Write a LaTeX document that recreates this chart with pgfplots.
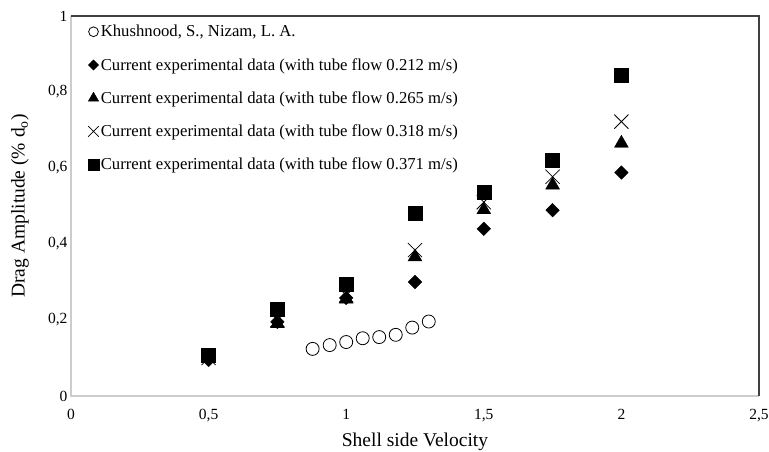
\documentclass[border=0pt]{standalone}
\usepackage{fontspec}
\setmainfont{Liberation Serif}
\usepackage{pgfplots}
\pgfplotsset{compat=1.18}
\usetikzlibrary{calc}
\begin{document}
\begin{tikzpicture}
\begin{axis}[
  scale only axis,
  width=688pt, height=380pt,
  xmin=0, xmax=2.5, ymin=0, ymax=1,
  xtick={0,0.5,1,1.5,2,2.5},
  ytick={0,0.2,0.4,0.6,0.8,1},
  /pgf/number format/use comma,
  /pgf/number format/assume math mode=true,
  tick label style={font=\fontsize{15.5}{17}\selectfont},
  xticklabel style={yshift=-10pt},
  major tick length=0pt,
  axis line style={draw=none},
  xlabel={Shell side Velocity},
  ylabel={Drag Amplitude (\% d\textsubscript{o})},
  label style={font=\fontsize{19.5}{21}\selectfont},
  xlabel style={at={(axis description cs:0.5,0)}, anchor=center, yshift=-46pt},
  ylabel style={at={(axis description cs:0,0.5)}, anchor=center, yshift=51pt},
  legend style={draw=none, fill=none, at={(0.0,1.0)}, anchor=north west,
    xshift=14pt, yshift=-5pt,
    font=\fontsize{16.7}{18}\selectfont, row sep=16pt,
    legend cell align=left},
  legend image code/.code={\draw[#1, every mark/.append style={scale=0.75}] plot coordinates {(0.2cm,0cm)};},
  clip=false,
]
\draw[color=black!20, line width=1.2pt] (rel axis cs:0,1) -- (rel axis cs:0,0) -- (rel axis cs:1,0);
\draw[color=black!75, line width=1.2pt] (rel axis cs:0,1) -- (rel axis cs:1,1) -- (rel axis cs:1,0);

\addplot[only marks, mark=o, mark size=6.5pt, black, thick] coordinates {
(0.878,0.124) (0.94,0.134) (1.0,0.142) (1.06,0.152) (1.12,0.155) (1.18,0.161) (1.24,0.18) (1.30,0.196)
};
\addlegendentry{Khushnood, S., Nizam, L. A.}

\addplot[only marks, mark=square*, mark size=4.8pt, mark options={rotate=45}, black] coordinates {
(0.5,0.095) (0.75,0.195) (1.0,0.258) (1.25,0.30) (1.5,0.44) (1.75,0.489) (2.0,0.588)
};
\addlegendentry{Current experimental data (with tube flow 0.212 m/s)}

\addplot[only marks, mark=triangle*, mark size=8pt, black] coordinates {
(0.5,0.10) (0.75,0.19) (1.0,0.255) (1.25,0.366) (1.5,0.49) (1.75,0.555) (2.0,0.665)
};
\addlegendentry{Current experimental data (with tube flow 0.265 m/s)}

\addplot[only marks, mark=x, mark size=10pt, black, thick] coordinates {
(0.5,0.10) (0.75,0.20) (1.0,0.265) (1.25,0.384) (1.5,0.51) (1.75,0.577) (2.0,0.722)
};
\addlegendentry{Current experimental data (with tube flow 0.318 m/s)}

\addplot[only marks, mark=square*, mark size=7pt, black] coordinates {
(0.5,0.108) (0.75,0.229) (1.0,0.295) (1.25,0.48) (1.5,0.535) (1.75,0.621) (2.0,0.843)
};
\addlegendentry{Current experimental data (with tube flow 0.371 m/s)}
\end{axis}
\pgfresetboundingbox
\path ($(current axis.south west)+(-71pt,-56pt)$) rectangle ($(current axis.north east)+(10pt,16pt)$);
\end{tikzpicture}
\end{document}
